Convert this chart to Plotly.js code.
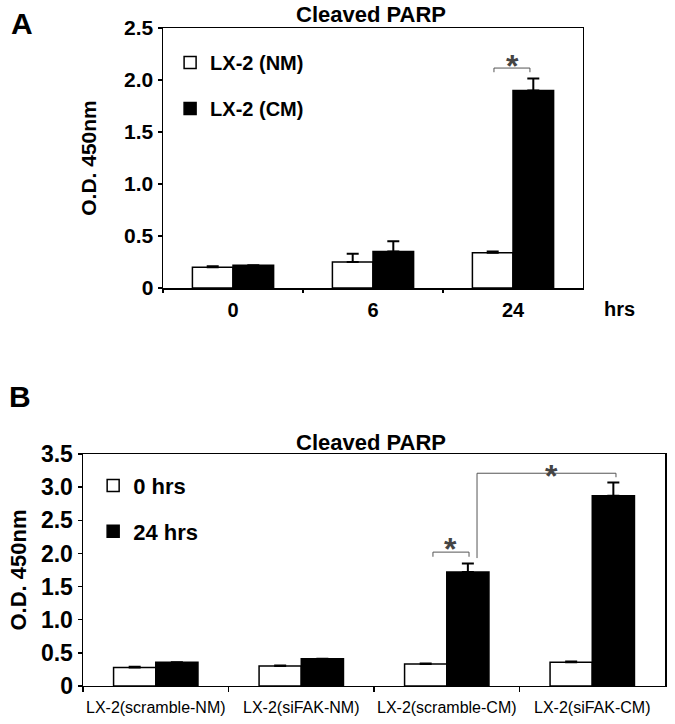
<!DOCTYPE html>
<html>
<head>
<meta charset="utf-8">
<script src="https://cdn.plot.ly/plotly-3.0.1.min.js"></script>
<style>
  body { margin: 0; background: #fff; }
  #myDiv { width: 675px; height: 724px; }
</style>
</head>
<body>
<div id="myDiv"></div>
<script>
// panel A: cleaved PARP over time
var hoursA = ['0', '6', '24'];
var nmA = [0.20, 0.25, 0.34];
var nmAErr = [0.01, 0.08, 0.01];
var cmA = [0.22, 0.35, 1.90];
var cmAErr = [0.0, 0.10, 0.115];

// panel B: scramble vs siFAK
var groupsB = ['LX-2(scramble-NM)', 'LX-2(siFAK-NM)', 'LX-2(scramble-CM)', 'LX-2(siFAK-CM)'];
var h0B = [0.28, 0.30, 0.33, 0.36];
var h0BErr = [0.01, 0.01, 0.01, 0.01];
var h24B = [0.36, 0.41, 1.72, 2.87];
var h24BErr = [0.0, 0.0, 0.13, 0.20];

var tickValsA = [0, 0.5, 1, 1.5, 2, 2.5];
var tickTextA = ['0', '0.5', '1.0', '1.5', '2.0', '2.5'];
var tickValsB = [0, 0.5, 1, 1.5, 2, 2.5, 3, 3.5];
var tickTextB = ['0', '0.5', '1.0', '1.5', '2.0', '2.5', '3.0', '3.5'];

var font = 'Liberation Sans, Arial, sans-serif';

function errs(up) {
  return {
    type: 'data', symmetric: false, array: up,
    arrayminus: up.map(function () { return 0; }),
    color: 'black', thickness: 2, width: 6
  };
}

var trA1 = {
  x: hoursA, y: nmA, name: 'LX-2 (NM)', type: 'bar',
  marker: {color: 'white', line: {color: 'black', width: 1.5}},
  error_y: errs(nmAErr), xaxis: 'x', yaxis: 'y',
  legend: 'legend', legendgroup: 'a1'
};
var trA2 = {
  x: hoursA, y: cmA, name: 'LX-2 (CM)', type: 'bar',
  marker: {color: 'black', line: {color: 'black', width: 1.5}},
  error_y: errs(cmAErr), xaxis: 'x', yaxis: 'y',
  legend: 'legend', legendgroup: 'a2'
};
var trB1 = {
  x: groupsB, y: h0B, name: '0 hrs', type: 'bar',
  marker: {color: 'white', line: {color: 'black', width: 1.5}},
  error_y: errs(h0BErr), xaxis: 'x2', yaxis: 'y2',
  legend: 'legend2', legendgroup: 'b1'
};
var trB2 = {
  x: groupsB, y: h24B, name: '24 hrs', type: 'bar',
  marker: {color: 'black', line: {color: 'black', width: 1.5}},
  error_y: errs(h24BErr), xaxis: 'x2', yaxis: 'y2',
  legend: 'legend2', legendgroup: 'b2'
};

var data = [trA1, trA2, trB1, trB2];

// significance brackets
var gray = '#555';
function ln(xr, yr, x0, y0, x1, y1) {
  return {type: 'line', xref: xr, yref: yr, x0: x0, y0: y0, x1: x1, y1: y1,
    line: {color: gray, width: 1}};
}
var shapes = [
  // A, 24 hrs
  ln('x', 'y', 1.864, 2.115, 2.121, 2.115),
  ln('x', 'y', 1.864, 2.115, 1.864, 2.075),
  ln('x', 'y', 2.121, 2.115, 2.121, 2.075),
  // B, scramble-CM
  ln('x2', 'y2', 1.905, 2.02, 2.153, 2.02),
  ln('x2', 'y2', 1.905, 2.02, 1.905, 1.95),
  ln('x2', 'y2', 2.153, 2.02, 2.153, 1.95),
  // B, scramble-CM vs siFAK-CM
  ln('x2', 'y2', 2.208, 3.21, 3.163, 3.21),
  ln('x2', 'y2', 2.208, 3.21, 2.208, 1.93),
  ln('x2', 'y2', 3.163, 3.21, 3.163, 3.15)
];

function star(xr, yr, x, y) {
  return {xref: xr, yref: yr, x: x, y: y, text: '*', showarrow: false,
    font: {family: font, size: 32, color: '#444', weight: 'bold'},
    xanchor: 'center', yanchor: 'middle', yshift: -9};
}

function label(x, y, text, size, bold) {
  return {xref: 'paper', yref: 'paper', x: x, y: y, text: text, showarrow: false,
    xanchor: 'center', yanchor: 'middle',
    font: {family: font, size: size, weight: bold ? 'bold' : 'normal', color: 'black'}};
}

var annotations = [
  label(0.5496, 0.9793, 'Cleaved PARP', 22, true),
  label(0.5496, 0.3895, 'Cleaved PARP', 22, true),
  label(0.9185, 0.5732, 'hrs', 20, true),
  label(0.0326, 0.9669, 'A', 30, true),
  label(0.0296, 0.453, 'B', 30, true),
  star('x', 'y', 1.993, 2.22),
  star('x2', 'y2', 2.029, 2.2),
  star('x2', 'y2', 2.723, 3.30)
];

function yax(dom, vals, txt, size, anchor, tsize, standoff) {
  return {
    domain: dom, range: [0, vals[vals.length - 1]], anchor: anchor,
    tickvals: vals, ticktext: txt,
    tickfont: {family: font, size: size, weight: 'bold', color: 'black'},
    ticks: 'outside', ticklen: 4, tickwidth: 1.5, tickcolor: 'black',
    showline: true, mirror: true, linecolor: 'black', linewidth: 1.5,
    showgrid: false, zeroline: false,
    title: {text: 'O.D. 450nm', font: {family: font, size: tsize, weight: 'bold', color: 'black'}, standoff: standoff}
  };
}

var layout = {
  width: 675, height: 724,
  margin: {l: 0, r: 0, t: 0, b: 0},
  paper_bgcolor: 'white', plot_bgcolor: 'white',
  barmode: 'group', bargap: 0.42, bargroupgap: 0,
  xaxis: {
    domain: [0.2415, 0.8637], anchor: 'y', type: 'category',
    tickfont: {family: font, size: 20, weight: 'bold', color: 'black'},
    ticks: 'outside', tickson: 'boundaries', ticklen: 3, tickwidth: 1.5, tickcolor: 'black',
    ticklabelstandoff: 3, tickangle: 0,
    showline: true, mirror: true, linecolor: 'black', linewidth: 1.5, showgrid: false
  },
  yaxis: yax([0.6022, 0.9613], tickValsA, tickTextA, 21, 'x', 21, 21),
  xaxis2: {
    domain: [0.1230, 0.9852], anchor: 'y2', type: 'category',
    tickfont: {family: font, size: 16, color: 'black'},
    ticks: 'outside', tickson: 'boundaries', ticklen: 5, tickwidth: 1.5, tickcolor: 'black',
    ticklabelstandoff: 6, tickangle: 0,
    showline: true, mirror: true, linecolor: 'black', linewidth: 1.5, showgrid: false
  },
  yaxis2: yax([0.0525, 0.3729], tickValsB, tickTextB, 23, 'x2', 22, 8),
  legend: {
    x: 0.252, y: 0.9406, xanchor: 'left', yanchor: 'top',
    bgcolor: 'rgba(0,0,0,0)', tracegroupgap: 17, traceorder: 'grouped',
    font: {family: font, size: 20, weight: 'bold', color: 'black'}
  },
  legend2: {
    x: 0.138, y: 0.358, xanchor: 'left', yanchor: 'top',
    bgcolor: 'rgba(0,0,0,0)', tracegroupgap: 14, traceorder: 'grouped',
    font: {family: font, size: 22, weight: 'bold', color: 'black'}
  },
  shapes: shapes,
  annotations: annotations
};

Plotly.newPlot('myDiv', data, layout, {displayModeBar: false, staticPlot: true});
</script>
</body>
</html>
